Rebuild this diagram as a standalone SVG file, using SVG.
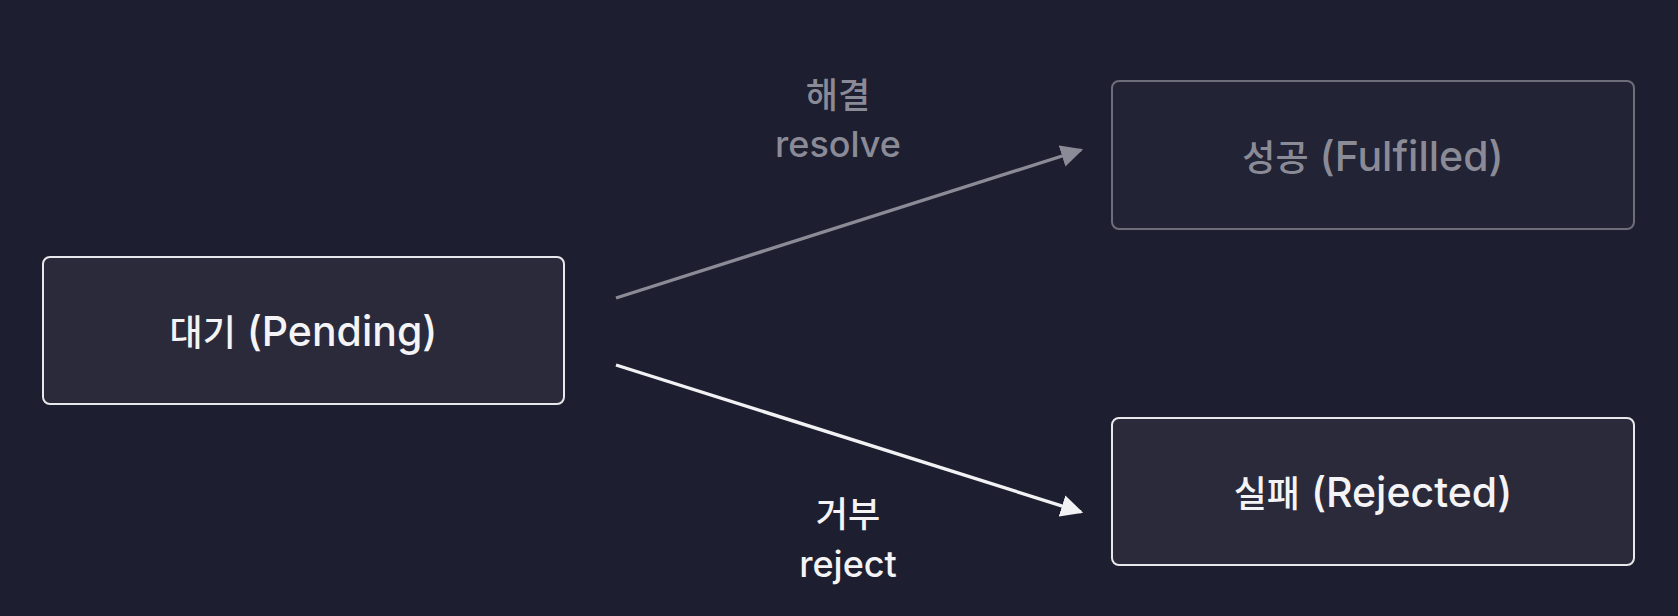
<svg xmlns="http://www.w3.org/2000/svg" width="1678" height="616" viewBox="0 0 1678 616">
  <defs>
    <marker id="ah-gray" viewBox="0 0 10 10" refX="9" refY="5" markerWidth="6.5" markerHeight="6.5" markerUnits="strokeWidth" orient="auto">
      <path d="M0,0 L10,5 L0,10 z" fill="#8b8b97"/>
    </marker>
    <marker id="ah-white" viewBox="0 0 10 10" refX="9" refY="5" markerWidth="6.5" markerHeight="6.5" markerUnits="strokeWidth" orient="auto">
      <path d="M0,0 L10,5 L0,10 z" fill="#f2f2f5"/>
    </marker>
  </defs>
  <style>
    .bg { fill: #1d1e2f; }
    .box-active { fill: #2a2a3b; stroke: #e8e8ec; stroke-width: 2; }
    .box-dim { fill: #222334; stroke: #6e6e7b; stroke-width: 2; }
    .t { font-family: "Inter", "Noto Sans CJK KR", sans-serif; font-weight: 500; text-anchor: middle; }
    .node-label { font-size: 41px; }
    .ko { font-family: "Noto Sans CJK KR", sans-serif; font-weight: 500; font-size: 36px; }
    .edge-label { font-size: 36px; }
    .ko-edge { font-family: "Noto Sans CJK KR", sans-serif; font-weight: 500; font-size: 35px; }
    .white { fill: #f4f4f6; }
    .gray { fill: #8b8b97; }
    .conn-gray { stroke: #8b8b97; stroke-width: 3.4; fill: none; }
    .conn-white { stroke: #f2f2f5; stroke-width: 3.4; fill: none; }
  </style>
  <rect class="bg" x="0" y="0" width="1678" height="616"/>

  <g id="connectors">
    <line class="conn-gray" x1="616" y1="298" x2="1081" y2="150" marker-end="url(#ah-gray)"/>
    <line class="conn-white" x1="616" y1="365" x2="1081" y2="512" marker-end="url(#ah-white)"/>
    <g id="label-resolve">
      <text class="t gray ko-edge" x="838" y="108">해결</text>
      <text class="t gray edge-label" x="838" y="157">resolve</text>
    </g>
    <g id="label-reject">
      <text class="t white ko-edge" x="848" y="527">거부</text>
      <text class="t white edge-label" x="848" y="577">reject</text>
    </g>
  </g>

  <g id="node-pending">
    <rect class="box-active" x="43" y="257" width="521" height="147" rx="7"/>
    <text class="t white node-label" x="303.5" y="346"><tspan class="ko">대기</tspan> (Pending)</text>
  </g>

  <g id="node-fulfilled">
    <rect class="box-dim" x="1112" y="81" width="522" height="148" rx="7"/>
    <text class="t gray node-label" x="1373" y="171"><tspan class="ko">성공</tspan> (Fulfilled)</text>
  </g>

  <g id="node-rejected">
    <rect class="box-active" x="1112" y="418" width="522" height="147" rx="7"/>
    <text class="t white node-label" x="1373" y="507"><tspan class="ko">실패</tspan> (Rejected)</text>
  </g>
</svg>
